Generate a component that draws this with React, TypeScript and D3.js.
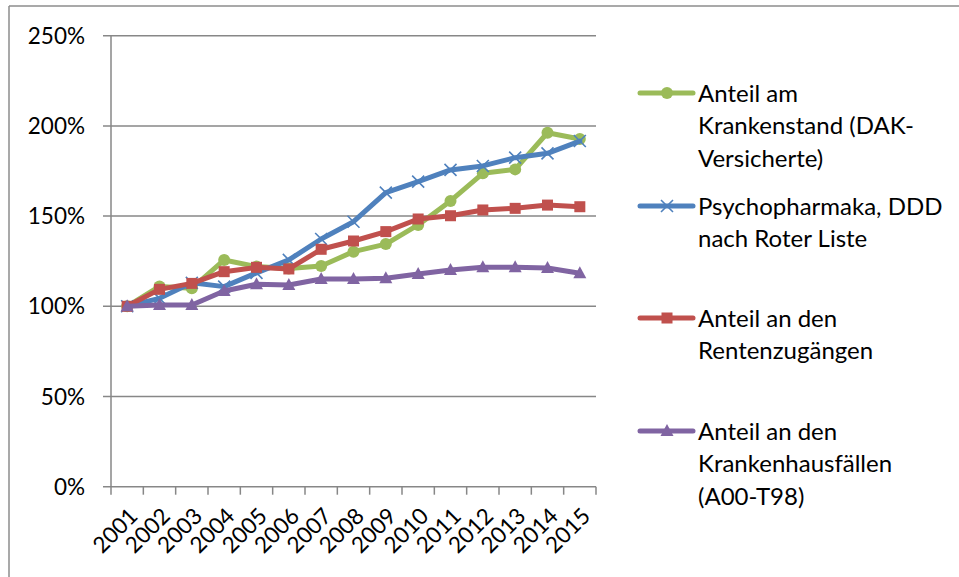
import React from "react";
import * as d3 from "d3";

const years = ["2001","2002","2003","2004","2005","2006","2007","2008","2009","2010","2011","2012","2013","2014","2015"];
const krankenstand = [100, 111, 110, 125.7, 122, 121, 122.3, 130.3, 134.5, 145.1, 158.4, 173.7, 175.9, 196.2, 192.7];
const psychopharmaka = [100, 104.4, 113, 110.9, 118.5, 125.7, 137.3, 146.9, 163, 169.1, 175.6, 177.8, 182.4, 184.8, 191.6];
const rentenzugaenge = [100, 109.4, 112.7, 119.2, 121.6, 120.7, 131.6, 136.2, 141.4, 148.4, 150.2, 153.4, 154.3, 156.1, 155.2];
const krankenhaus = [100, 100.7, 100.7, 108.5, 112.2, 111.8, 115.1, 115.1, 115.5, 117.9, 120.1, 121.6, 121.6, 121.2, 118.3];
const yTicks = [0, 50, 100, 150, 200, 250];

const seriesList = [
  { name: ["Anteil am", "Krankenstand (DAK-", "Versicherte)"], values: krankenstand, color: "#9BBB59", marker: "circle" },
  { name: ["Psychopharmaka, DDD", "nach Roter Liste"], values: psychopharmaka, color: "#4F81BD", marker: "x" },
  { name: ["Anteil an den", "Rentenzugängen"], values: rentenzugaenge, color: "#C0504D", marker: "square" },
  { name: ["Anteil an den", "Krankenhausfällen", "(A00-T98)"], values: krankenhaus, color: "#8064A2", marker: "triangle" },
];
const legendY = [93, 206, 318, 431];

const FONT = "Lato, 'Open Sans', sans-serif";

function Marker({ type, x, y, color }: { type: string; x: number; y: number; color: string }) {
  if (type === "circle") return <circle cx={x} cy={y} r={6} fill={color} />;
  if (type === "square") return <rect x={x - 5.5} y={y - 5.5} width={11} height={11} fill={color} />;
  if (type === "triangle") {
    const p = `${x},${y - 7} ${x + 6.5},${y + 5} ${x - 6.5},${y + 5}`;
    return <polygon points={p} fill={color} />;
  }
  const s = 6;
  return (
    <path d={`M${x - s},${y - s}L${x + s},${y + s}M${x - s},${y + s}L${x + s},${y - s}`} stroke={color} strokeWidth={1.6} fill="none" />
  );
}

export default function App() {
  const left = 111, right = 596, top = 35.7, bottom = 486.7;
  const x = d3.scaleBand<string>().domain(years).range([left, right]);
  const y = d3.scaleLinear().domain([0, 250]).range([bottom, top]);
  const cx = (yr: string) => (x(yr) as number) + x.bandwidth() / 2;
  const line = d3.line<number>().x((_, i) => cx(years[i])).y((v) => y(v));
  const tickXs = years.map((yr) => x(yr) as number).concat([right]);
  const grid = "#878787";

  return (
    <div style={{ position: "fixed", left: 0, top: 0 }}>
      <svg width={959} height={577} style={{ display: "block", background: "#fff" }} fontFamily={FONT}>
        <line x1={9} y1={6} x2={959} y2={6} stroke="#8c8c8c" strokeWidth={1.5} />
        <line x1={9} y1={6} x2={9} y2={577} stroke="#8c8c8c" strokeWidth={1.5} />
        {yTicks.map((t) => (
          <g key={t}>
            <line x1={left - 8} x2={right} y1={y(t)} y2={y(t)} stroke={grid} strokeWidth={1.5} />
            <text x={85} y={y(t)} dy="0.36em" textAnchor="end" fontSize={22.5} fill="#000">{t}%</text>
          </g>
        ))}
        <line x1={left} x2={left} y1={top} y2={bottom} stroke={grid} strokeWidth={1.5} />
        {tickXs.map((tx, i) => (
          <line key={i} x1={tx} x2={tx} y1={bottom} y2={bottom + 8} stroke={grid} strokeWidth={1.5} />
        ))}
        {years.map((yr) => (
          <text key={yr} transform={`translate(${cx(yr)},${bottom + 19}) rotate(-45)`} textAnchor="end" dy="0.75em" fontSize={22.5} fill="#000">{yr}</text>
        ))}
        {seriesList.map((s) => (
          <g key={s.color}>
            <path d={line(s.values) || ""} fill="none" stroke={s.color} strokeWidth={5} strokeLinejoin="round" strokeLinecap="round" />
            {s.values.map((v, i) => (
              <Marker key={i} type={s.marker} x={cx(years[i])} y={y(v)} color={s.color} />
            ))}
          </g>
        ))}
        {seriesList.map((s, k) => (
          <g key={"l" + k}>
            <line x1={640} x2={693} y1={legendY[k]} y2={legendY[k]} stroke={s.color} strokeWidth={5} strokeLinecap="round" />
            <Marker type={s.marker} x={667} y={legendY[k]} color={s.color} />
            {s.name.map((ln, j) => (
              <text key={j} x={698} y={legendY[k] + j * 32.6} dy="0.36em" fontSize={24} fill="#000">{ln}</text>
            ))}
          </g>
        ))}
      </svg>
    </div>
  );
}
